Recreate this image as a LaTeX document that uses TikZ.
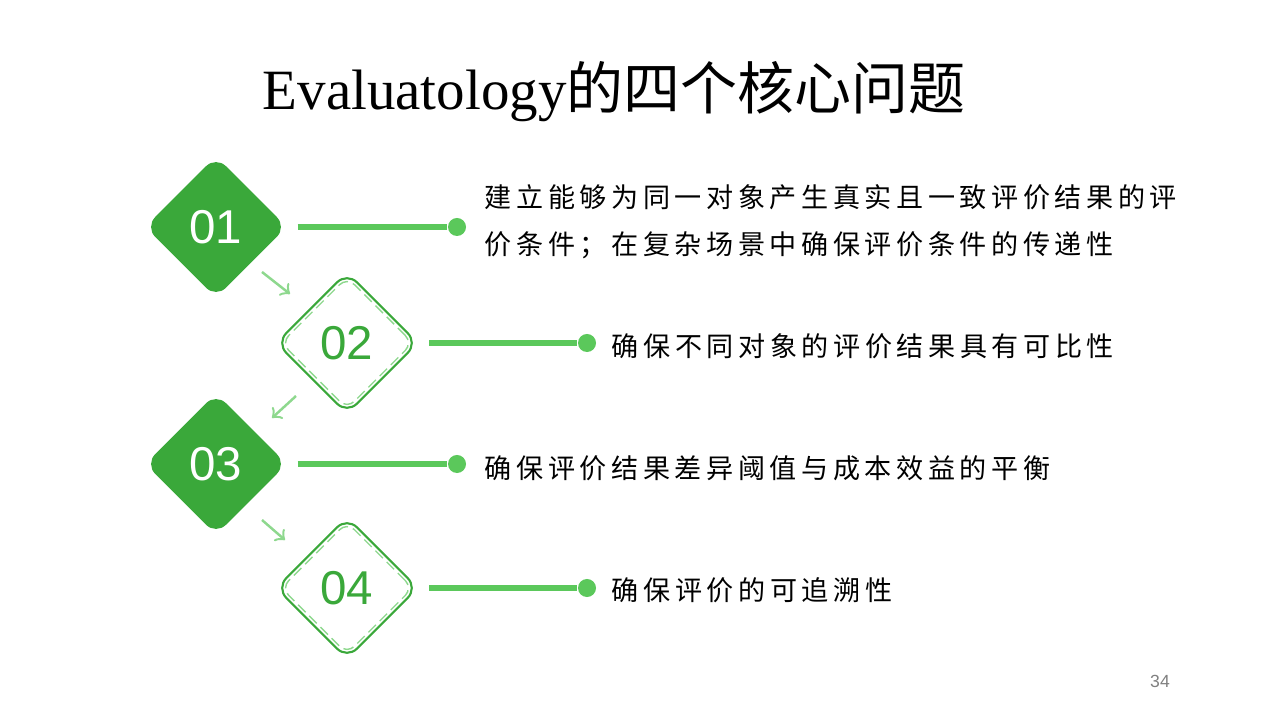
\documentclass[tikz,border=0pt]{standalone}
\usepackage{fontspec}
\setmainfont{Liberation Serif}
\newfontfamily\cjk[LetterSpace=17]{Noto Sans CJK SC}
\newfontfamily\titlecjk{Noto Sans CJK SC}
\newfontfamily\numfont{Liberation Sans}
\usetikzlibrary{shapes.geometric}
\definecolor{dgreen}{HTML}{3AA83A}
\definecolor{lgreen}{HTML}{5BC85B}
\definecolor{pgreen}{HTML}{8ED88E}
\tikzset{
  solidbox/.style={diamond,aspect=1,minimum width=1.42cm,minimum height=1.42cm,inner sep=0pt,fill=dgreen,rounded corners=4pt,text=white,font=\numfont\fontsize{13.5}{13.5}\selectfont},
  linebox/.style={diamond,aspect=1,minimum width=1.42cm,minimum height=1.42cm,inner sep=0pt,draw=dgreen,line width=0.6pt,rounded corners=4pt,text=dgreen,font=\numfont\fontsize{13.5}{13.5}\selectfont},
  dashbox/.style={diamond,aspect=1,minimum width=1.32cm,minimum height=1.32cm,inner sep=0pt,draw=pgreen,dash pattern=on 3pt off 1.5pt,rounded corners=3pt},
  dot/.style={circle,fill=lgreen,minimum size=0.18cm,inner sep=0pt},
  item/.style={anchor=west,inner sep=0pt,font=\cjk\fontsize{7.7}{13.3}\selectfont,align=left},
}
\begin{document}
\begin{tikzpicture}[x=0.01cm,y=-0.01cm]
\useasboundingbox (0,0) rectangle (1267,713);

\node (title) at (614,92) {\fontsize{16.2}{16.2}\selectfont Evaluatology\titlecjk 的四个核心问题};

\node[solidbox] (d1) at (216,227) {01};
\node[dashbox] (e2) at (347,343) {};
\node[linebox] (d2) at (347,343) {02};
\node[solidbox] (d3) at (216,464) {03};
\node[dashbox] (e4) at (347,588) {};
\node[linebox] (d4) at (347,588) {04};

\node[dot] (p1) at (457,227) {};
\node[dot] (p2) at (587,343) {};
\node[dot] (p3) at (457,464) {};
\node[dot] (p4) at (587,588) {};

\draw[lgreen,line width=1.8pt] (d1.east) ++(10,0) -- (p1);
\draw[lgreen,line width=1.8pt] (d2.east) ++(10,0) -- (p2);
\draw[lgreen,line width=1.8pt] (d3.east) ++(10,0) -- (p3);
\draw[lgreen,line width=1.8pt] (d4.east) ++(10,0) -- (p4);

\node[item] (t1) at (484,222) {建立能够为同一对象产生真实且一致评价结果的评\\价条件；在复杂场景中确保评价条件的传递性};
\node[item] (t2) at (611,346) {确保不同对象的评价结果具有可比性};
\node[item] (t3) at (484,468) {确保评价结果差异阈值与成本效益的平衡};
\node[item] (t4) at (611,590) {确保评价的可追溯性};

\coordinate (a1) at (262,272); \coordinate (b1) at (290,294);
\coordinate (a2) at (296,396); \coordinate (b2) at (272,418);
\coordinate (a3) at (262,520); \coordinate (b3) at (285,540);
\draw[->,pgreen,line width=0.7pt] (a1) -- (b1);
\draw[->,pgreen,line width=0.7pt] (a2) -- (b2);
\draw[->,pgreen,line width=0.7pt] (a3) -- (b3);

\node[text=gray,font=\numfont\fontsize{5}{5}\selectfont] (pg) at (1160,681) {34};
\end{tikzpicture}
\end{document}
